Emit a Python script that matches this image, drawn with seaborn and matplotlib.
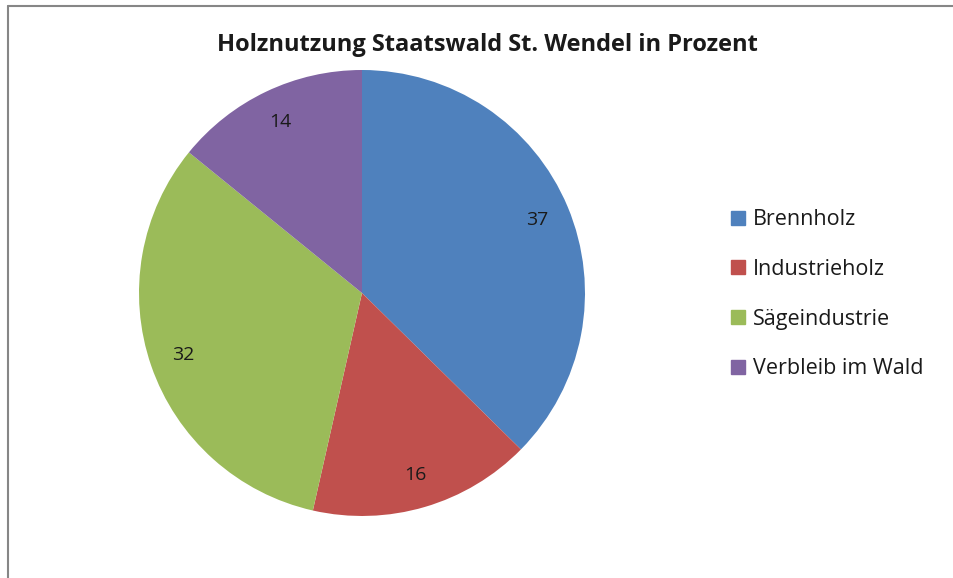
import numpy as np
import matplotlib.pyplot as plt
import matplotlib.patches as mpatches
from matplotlib.lines import Line2D
import seaborn as sns

categories = ["Brennholz", "Industrieholz", "Sägeindustrie", "Verbleib im Wald"]
values = [37, 16, 32, 14]
colors = ["#4F81BD", "#C0504D", "#9BBB59", "#8064A2"]
title = "Holznutzung Staatswald St. Wendel in Prozent"

sns.set_theme(style="white")
plt.rcParams["font.family"] = ["Open Sans", "DejaVu Sans"]

fig = plt.figure(figsize=(9.54, 5.78), dpi=100)
ax = fig.add_axes([0.1457, 0.1073, 0.4675, 0.7716])

total = sum(values)
ax.pie(values, colors=colors, startangle=90, counterclock=False,
       autopct=lambda p: f"{p * total / 100:.0f}", pctdistance=0.85,
       wedgeprops=dict(linewidth=0), textprops=dict(fontsize=14, color="#1a1a1a"))
ax.set_xlim(-1, 1)
ax.set_ylim(-1, 1)
ax.set_aspect("equal")

fig.text(0.511, 0.922, title, ha="center", va="center", fontsize=17,
         fontweight="bold", color="#1a1a1a")

handles = [mpatches.Patch(color=c, label=l) for c, l in zip(colors, categories)]
fig.legend(handles=handles, loc="center left", bbox_to_anchor=(0.7576, 0.491),
           borderaxespad=0, frameon=False, fontsize=15.5, labelspacing=1.33,
           handlelength=0.62, handleheight=0.62, handletextpad=0.4,
           labelcolor="#1a1a1a")

# grey chart frame (only top and left edges visible)
fx = 8 / 954
fy = 1 - 6 / 578
fig.add_artist(Line2D([fx, 1], [fy, fy], transform=fig.transFigure, color="#868686", lw=1.5))
fig.add_artist(Line2D([fx, fx], [0, fy], transform=fig.transFigure, color="#868686", lw=1.5))

plt.savefig("out.png", dpi=100)
